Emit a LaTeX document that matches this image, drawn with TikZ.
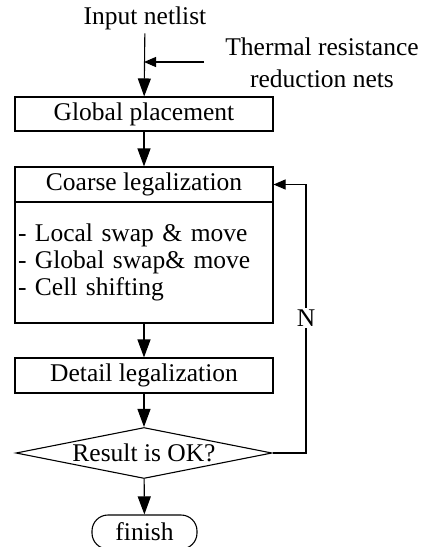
\documentclass[tikz,border=0pt]{standalone}
\usepackage{fontspec}
\setmainfont{Liberation Serif}
\usepackage{tikz}
\usetikzlibrary{shapes.geometric,arrows.meta}

\begin{document}
\begin{tikzpicture}[x=1pt, y=-1pt, line width=1.1pt,
		font=\fontsize{25.5}{27}\selectfont,
		box/.style={draw, rectangle, minimum width=258pt, inner sep=0pt},
		arr/.style={-{Triangle[length=18pt,width=13pt]}},
		sarr/.style={-{Triangle[length=12pt,width=10pt]}}]
			\useasboundingbox (0,0) rectangle (422,547);

			\node (input) at (145,18) {Input netlist};
			\node[align=center, font=\fontsize{25.5}{32}\selectfont] (thermal) at (322,63) {Thermal resistance\\reduction nets};
			\coordinate (tr) at (204,62);
			\coordinate (join) at (144,62);

			\node[box, minimum height=34pt] (glob) at (144,114) {Global placement};
			\node[box, minimum height=35pt] (coarse) at (144,184.5) {Coarse legalization};
			\node[box, minimum height=121pt, text width=252pt, align=left, inner xsep=3pt] (steps) at (144,262.5)
				{- Local swap \& move\\- Global swap\& move\\- Cell shifting};
			\node[box, minimum height=35pt] (detail) at (144,375.5) {Detail legalization};
			\node[draw, diamond, aspect=5, inner sep=0pt, minimum width=256pt, minimum height=51pt] (check) at (144,453) {Result is OK?};
			\node[draw, rectangle, rounded corners=16pt, minimum width=105pt, minimum height=34pt] (finish) at (144.5,532) {finish};

			\coordinate (loop) at (306,453);

			\draw[arr] (input) to (glob);
			\draw[sarr] (tr) to (join);
			\draw[arr] (glob) to (coarse);
			\draw[arr] (steps) to (detail);
			\draw[arr] (detail) to (check);
			\draw[arr] (check) to (finish);
			\draw[sarr] (check.east) -- (loop) |- (coarse.east);
			\node[fill=white, inner sep=2pt] (no) at (306,318) {N};
		\end{tikzpicture}
\end{document}
